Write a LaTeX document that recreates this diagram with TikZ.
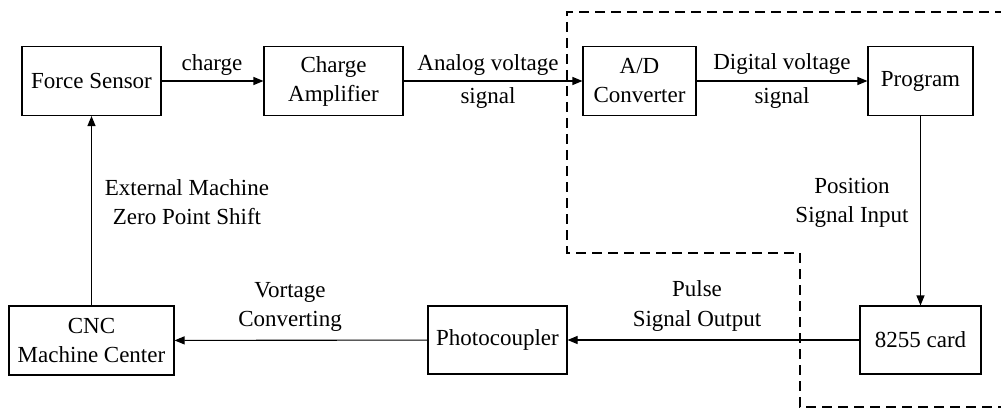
\documentclass[tikz,border=0pt]{standalone}
\usepackage{fontspec}
\setmainfont{Liberation Serif}
\usetikzlibrary{arrows.meta}
\begin{document}
\begin{tikzpicture}[x=1pt,y=-1pt,
  box/.style={draw,line width=1.1pt,minimum height=69pt,inner sep=0pt,align=center,font=\fontsize{23}{29}\selectfont},
  lbl/.style={inner sep=0pt,align=center,font=\fontsize{23}{29}\selectfont},
  conn/.style={line width=1.1pt,-{Triangle[length=10pt,width=8pt]}},
  dsh/.style={line width=1.1pt,dash pattern=on 10pt off 6pt}]
\useasboundingbox (0,0) rectangle (1001,409);
\node[box,minimum width=139pt] (fs) at (91.5,81) {Force Sensor};
\node[box,minimum width=139pt] (ca) at (333.5,81) {Charge\\Amplifier};
\node[box,minimum width=113pt] (ad) at (639.5,81) {A/D\\Converter};
\node[box,minimum width=105pt] (pr) at (920.5,81) {Program};
\node[box,minimum width=121pt,minimum height=68pt] (card) at (920.5,340) {8255 card};
\node[box,minimum width=139pt,minimum height=68pt] (ph) at (497.5,340) {Photocoupler};
\node[box,minimum width=165pt] (cnc) at (91.5,340.5) {CNC\\Machine Center};
\draw[conn] (fs) -- (ca);
\draw[conn] (ca) -- (ad);
\draw[conn] (ad) -- (pr);
\draw[conn] (pr) -- (card);
\draw[conn] (card) -- (ph);
\draw[conn] (ph) -- (cnc);
\draw[conn] (cnc) -- (fs);
\node[lbl] (l1) at (212,65) {charge};
\node[lbl] (l2) at (488,65) {Analog voltage};
\node[lbl] (l3) at (488,98) {signal};
\node[lbl] (l4) at (782,64) {Digital voltage};
\node[lbl] (l5) at (782,98) {signal};
\node[lbl] (l6) at (852,202.5) {Position\\Signal Input};
\node[lbl] (l7) at (187,202.5) {External Machine\\Zero Point Shift};
\node[lbl] (l8) at (290,306.5) {Vortage\\Converting};
\node[lbl] (l9) at (697,306) {Pulse\\Signal Output};
\coordinate (d0) at (1005,12);
\coordinate (d1) at (567,12);
\coordinate (d2) at (567,253);
\coordinate (d3) at (800,253);
\coordinate (d4) at (800,407);
\coordinate (d5) at (1005,407);
\draw[dsh] (d0) -- (d1) -- (d2) -- (d3) -- (d4) -- (d5);
\end{tikzpicture}
\end{document}
